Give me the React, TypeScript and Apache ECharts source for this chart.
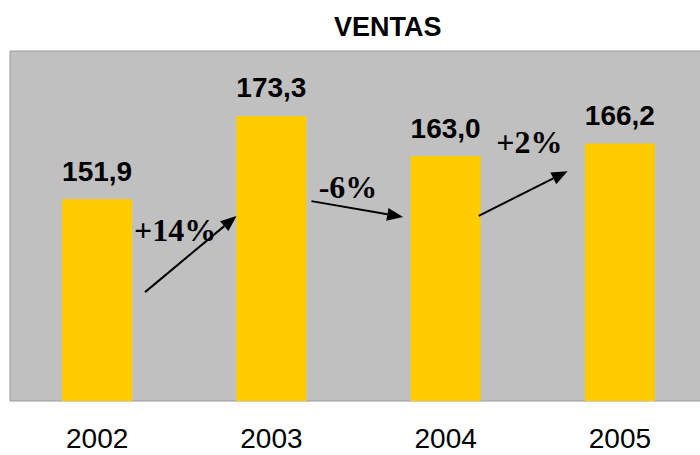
import React, { useEffect, useRef } from "react";
import * as echarts from "echarts";

const categories = ["2002", "2003", "2004", "2005"];
const sales = [151.9, 173.3, 163.0, 166.2];
const changeLabels = ["+14%", "-6%", "+2%"];
// annotation positions in data space: [category index (fractional), value]
const arrowStarts = [[0.275, 128.0], [1.23, 151.4], [2.19, 147.6]];
const arrowEnds = [[0.8, 147.6], [1.756, 147.3], [2.7, 159.1]];
const changeLabelPos = [[0.448, 144.0], [1.44, 155.0], [2.48, 166.6]];

const SANS = "'Liberation Sans', Arial, sans-serif";
const SERIF = "'Liberation Serif', 'Times New Roman', serif";

export default function App() {
  const ref = useRef<HTMLDivElement>(null);
  useEffect(() => {
    if (!ref.current) return;
    const chart = echarts.init(ref.current, null, { renderer: "svg" });
    chart.setOption({
      animation: false,
      title: {
        text: "VENTAS",
        left: 329,
        top: 8,
        textStyle: { fontFamily: SANS, fontSize: 27, fontWeight: "bold", color: "#000" },
      },
      grid: {
        left: 10,
        top: 51,
        width: 697,
        height: 350,
        show: true,
        backgroundColor: "#C0C0C0",
        borderColor: "#9A9A9A",
        borderWidth: 1,
      },
      xAxis: {
        type: "category",
        data: categories,
        axisLine: { show: false },
        axisTick: { show: false },
        axisLabel: { fontFamily: SANS, fontSize: 28, color: "#000", margin: 23 },
      },
      yAxis: {
        type: "value",
        min: 100,
        max: 190,
        show: false,
        splitLine: { show: false },
      },
      series: [
        {
          type: "bar",
          data: sales,
          barWidth: 70,
          itemStyle: { color: "#FFCC00" },
          label: {
            show: true,
            position: "top",
            distance: 14,
            fontFamily: SANS,
            fontSize: 28,
            fontWeight: "bold",
            color: "#000",
            formatter: (p: any) => p.value.toFixed(1).replace(".", ","),
          },
        },
      ],
    });

    const toPx = (pt: number[]) => {
      const i0 = Math.min(Math.floor(pt[0]), categories.length - 2);
      const frac = pt[0] - i0;
      const x0 = chart.convertToPixel({ xAxisIndex: 0 }, categories[i0]) as number;
      const x1 = chart.convertToPixel({ xAxisIndex: 0 }, categories[i0 + 1]) as number;
      const y = chart.convertToPixel({ yAxisIndex: 0 }, pt[1]) as number;
      return [x0 + frac * (x1 - x0), y];
    };

    const graphics: any[] = [];
    arrowStarts.forEach((s, k) => {
      const S = toPx(s);
      const E = toPx(arrowEnds[k]);
      const dx = E[0] - S[0];
      const dy = E[1] - S[1];
      const len = Math.sqrt(dx * dx + dy * dy);
      const ux = dx / len;
      const uy = dy / len;
      const hl = 16;
      const hw = 6.5;
      const bx = E[0] - ux * hl;
      const by = E[1] - uy * hl;
      graphics.push({
        type: "line",
        shape: { x1: S[0], y1: S[1], x2: bx, y2: by },
        style: { stroke: "#000", lineWidth: 2 },
        z: 100,
      });
      graphics.push({
        type: "polygon",
        shape: {
          points: [
            [E[0], E[1]],
            [bx - uy * hw, by + ux * hw],
            [bx + uy * hw, by - ux * hw],
          ],
        },
        style: { fill: "#000" },
        z: 100,
      });
      const L = toPx(changeLabelPos[k]);
      graphics.push({
        type: "text",
        x: L[0],
        y: L[1],
        style: {
          text: changeLabels[k],
          fontFamily: SERIF,
          fontSize: 32,
          fontWeight: "bold",
          fill: "#000",
          align: "center",
          verticalAlign: "middle",
        },
        z: 100,
      });
    });
    chart.setOption({ graphic: graphics });

    return () => chart.dispose();
  }, []);
  return (
    <div style={{ position: "absolute", left: 0, top: 0, width: 700, height: 455, overflow: "hidden" }}>
      <div ref={ref} style={{ width: 720, height: 455 }} />
    </div>
  );
}
